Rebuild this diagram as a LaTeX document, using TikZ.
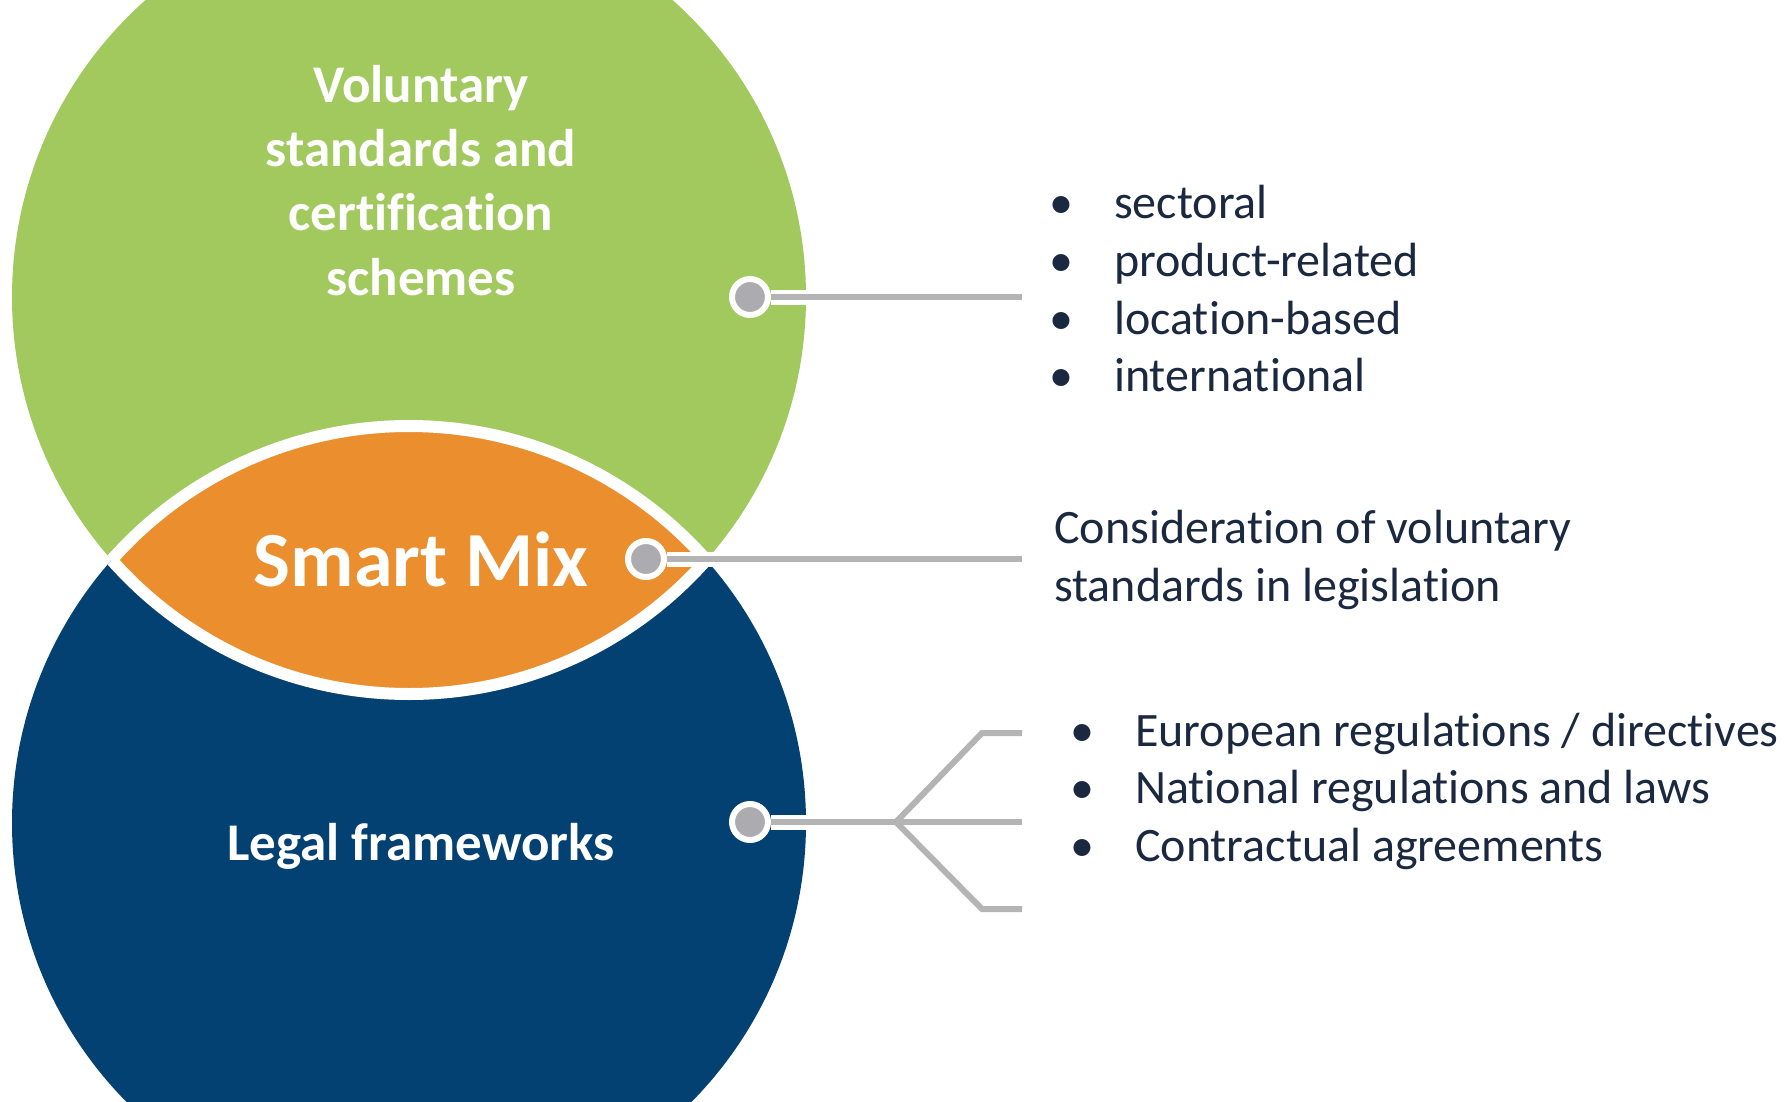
\documentclass[tikz,border=0pt]{standalone}
\usepackage{fontspec}
\setmainfont{Carlito}[Ligatures={NoCommon}]
\usetikzlibrary{calc}
\definecolor{vgreen}{RGB}{161,201,94}
\definecolor{smorange}{RGB}{234,142,46}
\definecolor{lfblue}{RGB}{3,65,114}
\definecolor{txtdark}{RGB}{26,40,64}
\definecolor{linegrey}{RGB}{180,180,180}
\definecolor{dotgrey}{RGB}{172,172,176}
\tikzset{
  circtext/.style={text=white,font=\bfseries\fontsize{53}{64}\selectfont,inner sep=0,anchor=base},
  item/.style={text=txtdark,font=\fontsize{48}{57.6}\selectfont,inner sep=0,anchor=base west},
  dot/.style={circle,fill=dotgrey,draw=white,line width=6pt,minimum size=36pt,inner sep=0},
  casing/.style={white,line width=15pt},
  link/.style={linegrey,line width=6pt}
}

\begin{document}
\begin{tikzpicture}[x=1pt,y=-1pt]
  \useasboundingbox (0,0) rectangle (1789,1102);
  \begin{scope}
    \clip (0,0) rectangle (1789,1102);
    \fill[vgreen] (409,297) circle[radius=397pt];
    \fill[lfblue] (409,823) circle[radius=397pt];
    % lens in the middle
    \begin{scope}
      \clip (409,297) circle[radius=397pt];
      \fill[smorange] (409,823) circle[radius=397pt];
      \draw[white,line width=12pt] (409,823) circle[radius=397pt];
    \end{scope}
    \begin{scope}
      \clip (409,823) circle[radius=397pt];
      \draw[white,line width=12pt] (409,297) circle[radius=397pt];
    \end{scope}
  \end{scope}

  % circle texts
  \foreach \l [count=\i] in {Voluntary,standards and,certification,schemes}
    \node[circtext] (vs\i) at ({421},{103+64*(\i-1)}) {\l};
  \node[circtext,font=\bfseries\fontsize{78}{90}\selectfont] (sm) at (421,586) {Smart Mix};
  \node[circtext] (lf) at (421,860) {Legal frameworks};

  % dots
  \node[dot] (vdot) at (750,297) {};
  \node[dot] (sdot) at (646,559) {};
  \node[dot] (ldot) at (750,822) {};

  % connectors
  \coordinate (vend) at (1022,297);
  \coordinate (send) at (1022,559);
  \coordinate (fork) at (896,822);
  \coordinate (fup) at (982,733);
  \coordinate (fdown) at (982,909);
  \coordinate (lend1) at (1022,733);
  \coordinate (lend2) at (1022,822);
  \coordinate (lend3) at (1022,909);
  \draw[casing] (vdot.east) -- (vend);
  \draw[link] (vdot.east) -- (vend);
  \draw[casing] (sdot.east) -- (send);
  \draw[link] (sdot.east) -- (send);
  \draw[casing] (ldot.east) -- (fork);
  \draw[link] (ldot.east) -- (fork) -- (lend2);
  \draw[link] (lend1) -- (fup) -- (fork) -- (fdown) -- (lend3);

  % texts on the right
  \foreach \t [count=\i] in {sectoral,product-related,location-based,international}
    \node[item] (vl\i) at ({1114},{219+57.6*(\i-1)}) {\llap{\textbullet\hspace{41pt}}\t};
  \node[item] (sl1) at (1054,543) {Consideration of voluntary};
  \node[item] (sl2) at (1054,601) {standards in legislation};
  \foreach \t [count=\i] in {European regulations / directives,National regulations and laws,Contractual agreements}
    \node[item] (ll\i) at ({1135},{746+57.6*(\i-1)}) {\llap{\textbullet\hspace{41pt}}\t};
\end{tikzpicture}
\end{document}
